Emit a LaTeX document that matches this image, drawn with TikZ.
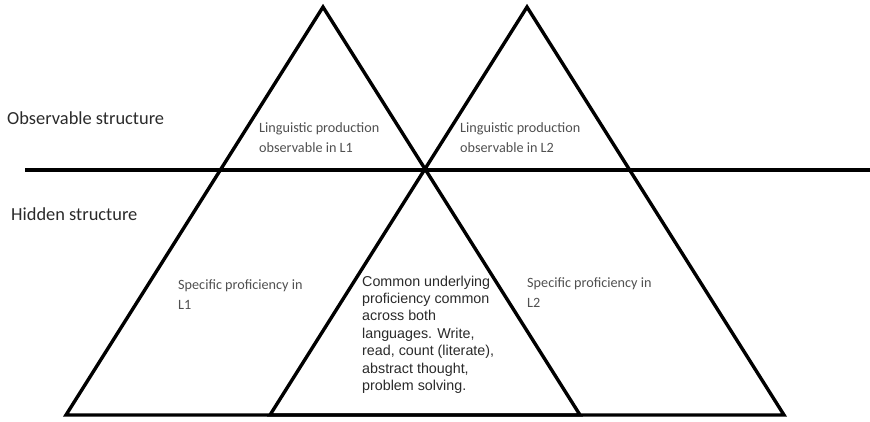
\documentclass[tikz,border=0pt]{standalone}
\usepackage{fontspec}
\setmainfont{Carlito}
\newfontfamily\arialfont{Liberation Sans}
\definecolor{greytext}{HTML}{505050}
\definecolor{darktext}{HTML}{2A2A2A}
\tikzset{
  edge/.style={line width=3.4pt, line join=miter, black},
  sidelabel/.style={inner sep=0pt, anchor=base west, text=darktext, font=\fontsize{18.4}{22}\selectfont},
  smalllabel/.style={inner sep=0pt, anchor=base west, align=left, text=greytext, font=\fontsize{14.2}{20}\selectfont},
  commonlabel/.style={inner sep=0pt, anchor=base west, align=left, text=darktext, font=\arialfont\fontsize{14.3}{17.4}\selectfont},
}
\begin{document}
\begin{tikzpicture}[x=1pt,y=-1pt]
\useasboundingbox (0,0) rectangle (870,422);
% triangle corners
\coordinate (LA) at (66,415);
\coordinate (LT) at (323,7);
\coordinate (LB) at (580,415);
\coordinate (RA) at (270,415);
\coordinate (RT) at (527,7);
\coordinate (RB) at (784,415);
\coordinate (HL) at (25,170);
\coordinate (HR) at (870,170);
\draw[edge] (LA) -- (LT) -- (LB) -- cycle;
\draw[edge] (RA) -- (RT) -- (RB) -- cycle;
\draw[edge] (HL) -- (HR);
% labels (base anchor = baseline of last line)
\node[sidelabel] (obs) at (7,125) {Observable structure};
\node[sidelabel] (hid) at (11,221) {Hidden structure};
\node[smalllabel] (ling1) at (259,153) {Linguistic production\\observable in L1};
\node[smalllabel] (ling2) at (460,153) {Linguistic production\\observable in L2};
\node[smalllabel] (spec1) at (178,309) {Specific proficiency in\\L1};
\node[smalllabel] (spec2) at (527,307) {Specific proficiency in\\L2};
\node[commonlabel] (cup) at (362,390.5) {Common underlying\\proficiency common\\across both\\languages. Write,\\read, count (literate),\\abstract thought,\\problem solving.};
\end{tikzpicture}
\end{document}
